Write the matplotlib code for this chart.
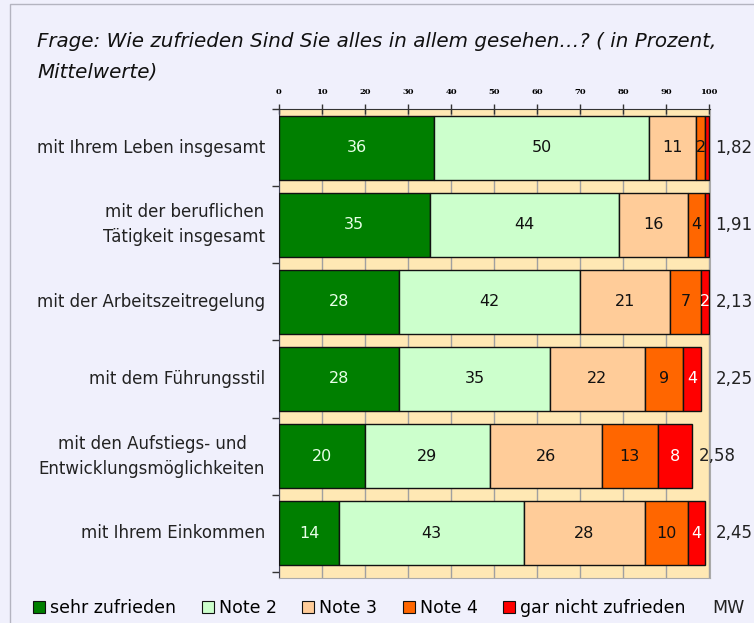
import matplotlib
matplotlib.use("Agg")
import matplotlib.pyplot as plt
import numpy as np
from matplotlib.patches import Rectangle, Patch

categories = ["mit Ihrem Leben insgesamt",
              "mit der beruflichen\nTätigkeit insgesamt",
              "mit der Arbeitszeitregelung",
              "mit dem Führungsstil",
              "mit den Aufstiegs- und\nEntwicklungsmöglichkeiten",
              "mit Ihrem Einkommen"]
sehr_zufrieden = [36, 35, 28, 28, 20, 14]
note2 = [50, 44, 42, 35, 29, 43]
note3 = [11, 16, 21, 22, 26, 28]
note4 = [2, 4, 7, 9, 13, 10]
gar_nicht = [1, 1, 2, 4, 8, 4]
mw = ["1,82", "1,91", "2,13", "2,25", "2,58", "2,45"]

series = [sehr_zufrieden, note2, note3, note4, gar_nicht]
names = ["sehr zufrieden", "Note 2", "Note 3", "Note 4", "gar nicht zufrieden"]
colors = ["#007f00", "#ccffcc", "#ffcc99", "#ff6600", "#ff0000"]
txtcol = ["#e8ffe8", "#111111", "#111111", "#111111", "#ffffff"]

bg = "#f0f0fc"
fig = plt.figure(figsize=(7.54, 6.23), dpi=100, facecolor=bg)
fig.patches.append(Rectangle((10 / 754, -0.1), 1.2, 1.1 - 4 / 623, transform=fig.transFigure,
                             fill=False, edgecolor="#b4b4c0", linewidth=1))

ax = fig.add_axes([279 / 754, 1 - 578 / 623, 431 / 754, 469 / 623])
ax.set_facecolor("#ffe8b4")

y = np.arange(len(categories))
left = np.zeros(len(categories))
for vals, c, tc in zip(series, colors, txtcol):
    vals = np.array(vals, dtype=float)
    ax.barh(y, vals, left=left, height=0.83, color=c, edgecolor="#111111", linewidth=1, zorder=3)
    for yi, l, v in zip(y, left, vals):
        if v < 2:
            continue
        ax.text(l + v / 2, yi, f"{int(v)}", ha="center", va="center", fontsize=11.5,
                color=tc, zorder=4, clip_on=False)
    left += vals

for yi, tot, m in zip(y, left, mw):
    xpos = tot + 1.5 if tot < 97 else 101.5
    ax.text(xpos, yi, m, ha="left", va="center", fontsize=12, color="#222222", clip_on=False)

ax.set_xlim(0, 100.2)
ax.set_ylim(5.58, -0.49)
ax.set_xticks(np.arange(0, 101, 10))
ax.xaxis.tick_top()
ax.tick_params(axis="x", direction="inout", length=7, width=1, color="#333333", pad=6,
               labelsize=6)
for lab in ax.get_xticklabels():
    lab.set_fontfamily("DejaVu Serif")
    lab.set_fontweight("bold")
ax.grid(axis="x", color="#a0a0a0", linewidth=1, zorder=1)

ax.set_yticks(y)
ax.set_yticklabels([])
ax.tick_params(axis="y", which="major", length=0)
ax.set_yticks(np.arange(-0.5, 6, 1), minor=True)
ax.tick_params(axis="y", which="minor", length=5, width=1, color="#333333", direction="out")
for yi, cat in zip(y, categories):
    ax.text(-3.2, yi, cat, ha="right", va="center", multialignment="center",
            fontsize=12, color="#222222", linespacing=1.5)

ax.spines["top"].set_color("#333333")
ax.spines["left"].set_color("#444455")
ax.spines["right"].set_color("#aaaaaa")
ax.spines["bottom"].set_color("#aaaaaa")

fig.text(37 / 754, 1 - 32 / 623,
         "Frage: Wie zufrieden Sind Sie alles in allem gesehen…? ( in Prozent,\nMittelwerte)",
         ha="left", va="top", fontsize=14.3, style="italic", color="#111111",
         linespacing=1.75)

handles = [Patch(facecolor=c, edgecolor="#111111", linewidth=0.8) for c in colors]
fig.legend(handles, names, loc="center left", bbox_to_anchor=(33 / 754, 1 - 608 / 623),
           ncol=5, frameon=False, fontsize=12.5, handlelength=0.7, handleheight=0.7,
           handletextpad=0.3, columnspacing=1.45, borderaxespad=0, borderpad=0)
fig.text(712 / 754, 1 - 608 / 623, "MW", ha="left", va="center", fontsize=12.5, color="#222222")

fig.savefig("out.png", dpi=100, facecolor=bg)
